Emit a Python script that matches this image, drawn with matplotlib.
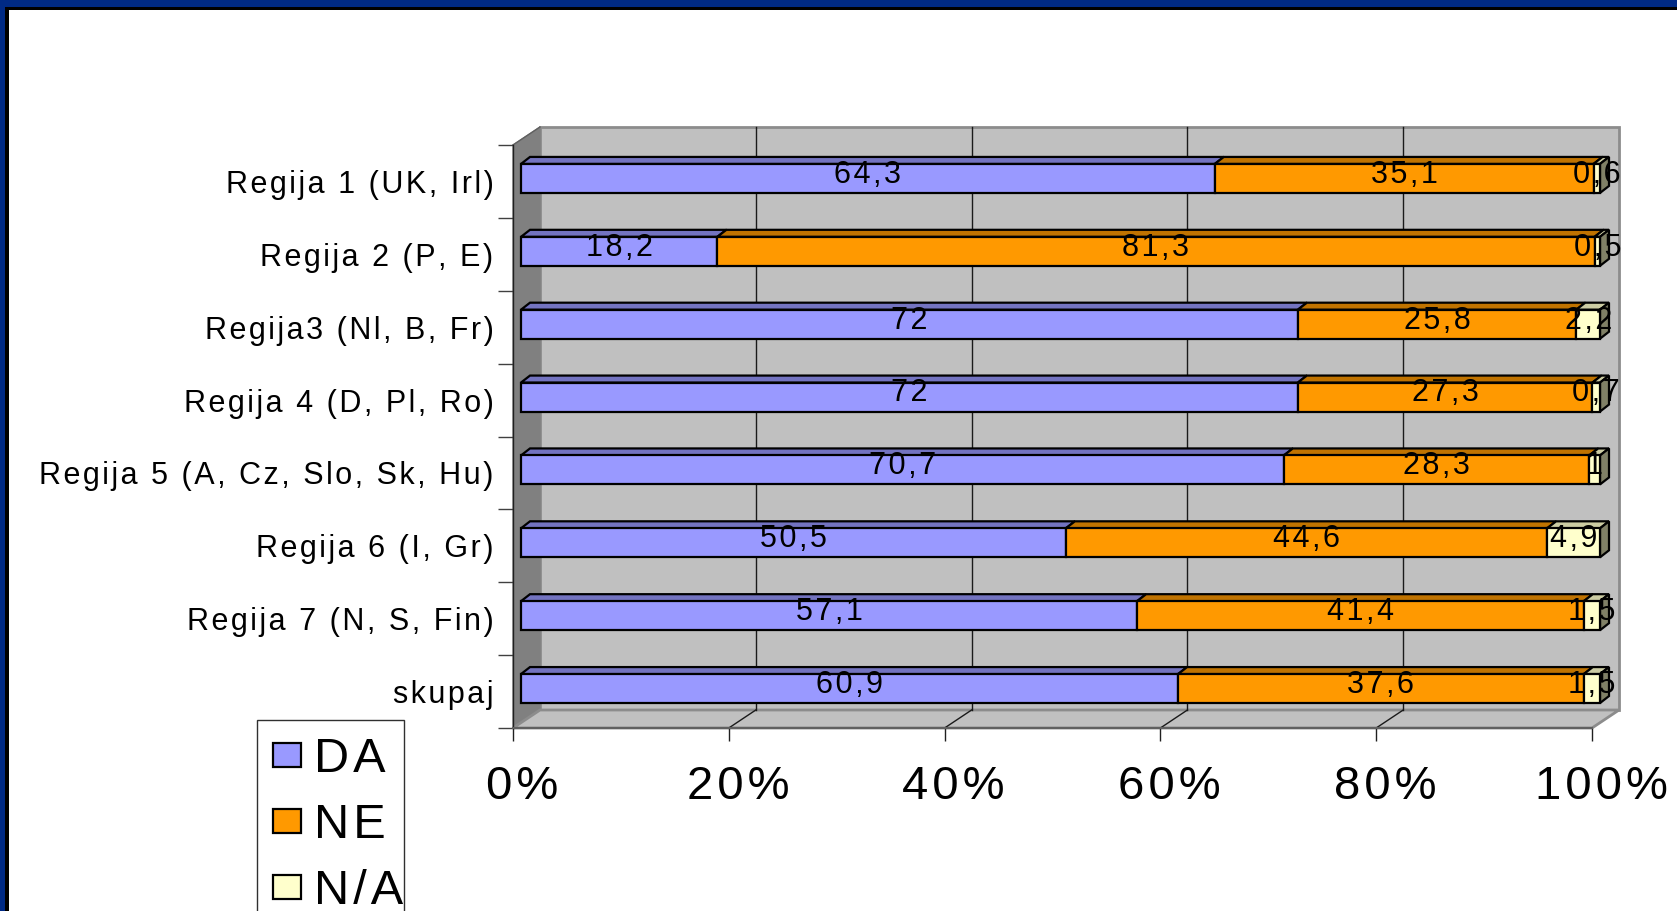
#!/usr/bin/env python
"""3D-style stacked percentage bars: DA / NE / N/A by region."""
import matplotlib
matplotlib.use('Agg')
import matplotlib.pyplot as plt
from matplotlib.patches import Polygon, Rectangle
from matplotlib.transforms import ScaledTranslation

plt.rcParams['font.family'] = ['Liberation Sans', 'DejaVu Sans']

# data, top row first
regions = ['Regija 1 (UK, Irl)', 'Regija 2 (P, E)', 'Regija3 (Nl, B, Fr)',
           'Regija 4 (D, Pl, Ro)', 'Regija 5 (A, Cz, Slo, Sk, Hu)',
           'Regija 6 (I, Gr)', 'Regija 7 (N, S, Fin)', 'skupaj']
da = [64.3, 18.2, 72, 72, 70.7, 50.5, 57.1, 60.9]
ne = [35.1, 81.3, 25.8, 27.3, 28.3, 44.6, 41.4, 37.6]
na = [0.6, 0.5, 2.2, 0.7, 1, 4.9, 1.5, 1.5]
series_names = ['DA', 'NE', 'N/A']
xticks = [0, 20, 40, 60, 80, 100]

front = ['#9999ff', '#ff9900', '#ffffcc']
top = ['#7373c0', '#c07300', '#cccca3']
side = ['#4d4d80', '#804d00', '#808066']

W, H = 1677, 911
HAIR = '\u200a'


def spaced(s, gap=HAIR):
    """Loose letter spacing, as the old chart renderer drew it."""
    return gap.join(s)


def fig_xy(x, y):
    """Pixel position (from top-left) to figure fraction."""
    return x / W, 1 - y / H


def fmt(v):
    """Value with decimal comma, like the original."""
    return ('%g' % v).replace('.', ',')


def draw_walls(ax, n, dx, dy):
    """Side wall, back wall, floor and gridlines."""
    y0, y1 = -0.5, n - 0.5
    ax.add_patch(Polygon([(0, y0), (0, y1), (dx, y1 + dy), (dx, y0 + dy)],
                         closed=True, fc='#808080', ec='#808080', lw=1,
                         clip_on=False, zorder=0.5))
    ax.add_patch(Rectangle((dx, y0 + dy), 100, y1 - y0, fc='#c0c0c0',
                           ec='#8c8c8c', lw=2, clip_on=False, zorder=0.4))
    ax.add_patch(Polygon([(0, y0), (100, y0), (100 + dx, y0 + dy),
                          (dx, y0 + dy)], closed=True, fc='#c0c0c0',
                         ec='#8c8c8c', lw=2, clip_on=False, zorder=0.5))
    for t in xticks[1:-1]:
        ax.plot([t + dx, t + dx], [y0 + dy, y1 + dy], color='#1a1a1a',
                lw=1, clip_on=False, zorder=0.6)
        ax.plot([t, t + dx], [y0, y0 + dy], color='#1a1a1a', lw=1,
                clip_on=False, zorder=0.6)
    ax.plot([0, dx], [y1, y1 + dy], color='#606060', lw=1,
            clip_on=False, zorder=0.6)


def main():
    fig = plt.figure(figsize=(W / 100, H / 100), dpi=100)
    fig.patch.set_facecolor('white')

    # frame of the slide
    fig.patches.append(Rectangle((0, 1 - 10 / H), 1, 10 / H, fc='black',
                                 ec='none', transform=fig.transFigure))
    fig.patches.append(Rectangle((0, 0), 9 / W, 1, fc='black', ec='none',
                                 transform=fig.transFigure))
    fig.patches.append(Rectangle((0, 1 - 7 / H), 1, 7 / H, fc='#002a85',
                                 ec='none', transform=fig.transFigure))
    fig.patches.append(Rectangle((0, 0), 5 / W, 1, fc='#002a85', ec='none',
                                 transform=fig.transFigure))

    left, right, ytop, ybot = 513, 1592, 145, 728
    ax = fig.add_axes([left / W, (H - ybot) / H, (right - left) / W,
                       (ybot - ytop) / H])
    ax.patch.set_visible(False)
    n = len(regions)
    ax.set_xlim(0, 100)
    ax.set_ylim(-0.5, n - 0.5)

    px_x = (right - left) / 100.0
    px_y = (ybot - ytop) / float(n)
    dx, dy = 27 / px_x, 18 / px_y          # full depth of the box
    bx, by = 8 / px_x, 3 / px_y            # bar front offset
    bdx, bdy = 9 / px_x, 7 / px_y          # bar depth
    h = 29 / px_y

    draw_walls(ax, n, dx, dy)

    ypos = [n - 1 - i for i in range(n)]
    series = [da, ne, na]
    lefts = [0.0] * n
    for k, vals in enumerate(series):
        yb = [y + by for y in ypos]
        ax.barh(yb, vals, height=h, left=[l + bx for l in lefts],
                color=front[k], edgecolor='black', linewidth=1.6, zorder=3,
                clip_on=False)
        for i in range(n):
            x0 = lefts[i] + bx
            x1 = x0 + vals[i]
            yt = yb[i] + h / 2
            ax.add_patch(Polygon([(x0, yt), (x1, yt), (x1 + bdx, yt + bdy),
                                  (x0 + bdx, yt + bdy)], closed=True,
                                 fc=top[k], ec='black', lw=1.6, zorder=2.9,
                                 clip_on=False))
            if k == len(series) - 1:
                ylo = yb[i] - h / 2
                ax.add_patch(Polygon([(x1, ylo), (x1, yt),
                                      (x1 + bdx, yt + bdy),
                                      (x1 + bdx, ylo + bdy)], closed=True,
                                     fc=side[k], ec='black', lw=1.6,
                                     zorder=2.9, clip_on=False))
            ax.text(x0 + vals[i] / 2, yb[i] + 0.05, spaced(fmt(vals[i])),
                    ha='center', va='center', fontsize=22, zorder=5,
                    clip_on=False)
        lefts = [l + v for l, v in zip(lefts, vals)]

    for s in ['top', 'right']:
        ax.spines[s].set_visible(False)
    ax.spines['left'].set_color('#202020')
    ax.spines['bottom'].set_color('#606060')
    ax.spines['left'].set_linewidth(1)
    ax.spines['bottom'].set_linewidth(1.5)

    ax.set_xticks(xticks)
    ax.set_xticklabels([spaced('%d%%' % t) for t in xticks])
    ax.tick_params(axis='x', length=9.4, width=1, color='#202020',
                   labelsize=34, pad=17)
    shift = ScaledTranslation(9 / 100.0, 0, fig.dpi_scale_trans)
    for lab in ax.get_xticklabels():
        lab.set_transform(lab.get_transform() + shift)
    ax.set_yticks(ypos)
    ax.set_yticklabels([spaced(r) for r in regions])
    ax.tick_params(axis='y', which='major', length=0, labelsize=22, pad=14)
    ax.set_yticks([y - 0.5 for y in range(n + 1)], minor=True)
    ax.tick_params(axis='y', which='minor', length=11, width=1,
                   color='#404040')

    # legend box, placed like the original
    fx, fy = fig_xy(257, 720)
    fig.patches.append(Rectangle((fx, fy - 0.3), (404 - 257) / W, 0.3,
                                 fc='white', ec='#303030', lw=1,
                                 transform=fig.transFigure, zorder=1))
    for k, name in enumerate(series_names):
        cy = 755 + 66 * k
        mx, my = fig_xy(273, cy + 12)
        fig.patches.append(Rectangle((mx, my), 28 / W, 24 / H, fc=front[k],
                                     ec='black', lw=1.6,
                                     transform=fig.transFigure, zorder=2))
        tx, ty = fig_xy(314, cy + 4)
        fig.text(tx, ty, spaced(name), fontsize=35,
                 va='center', ha='left', zorder=3)

    fig.savefig('out.png', dpi=100)


if __name__ == "__main__":
    main()
